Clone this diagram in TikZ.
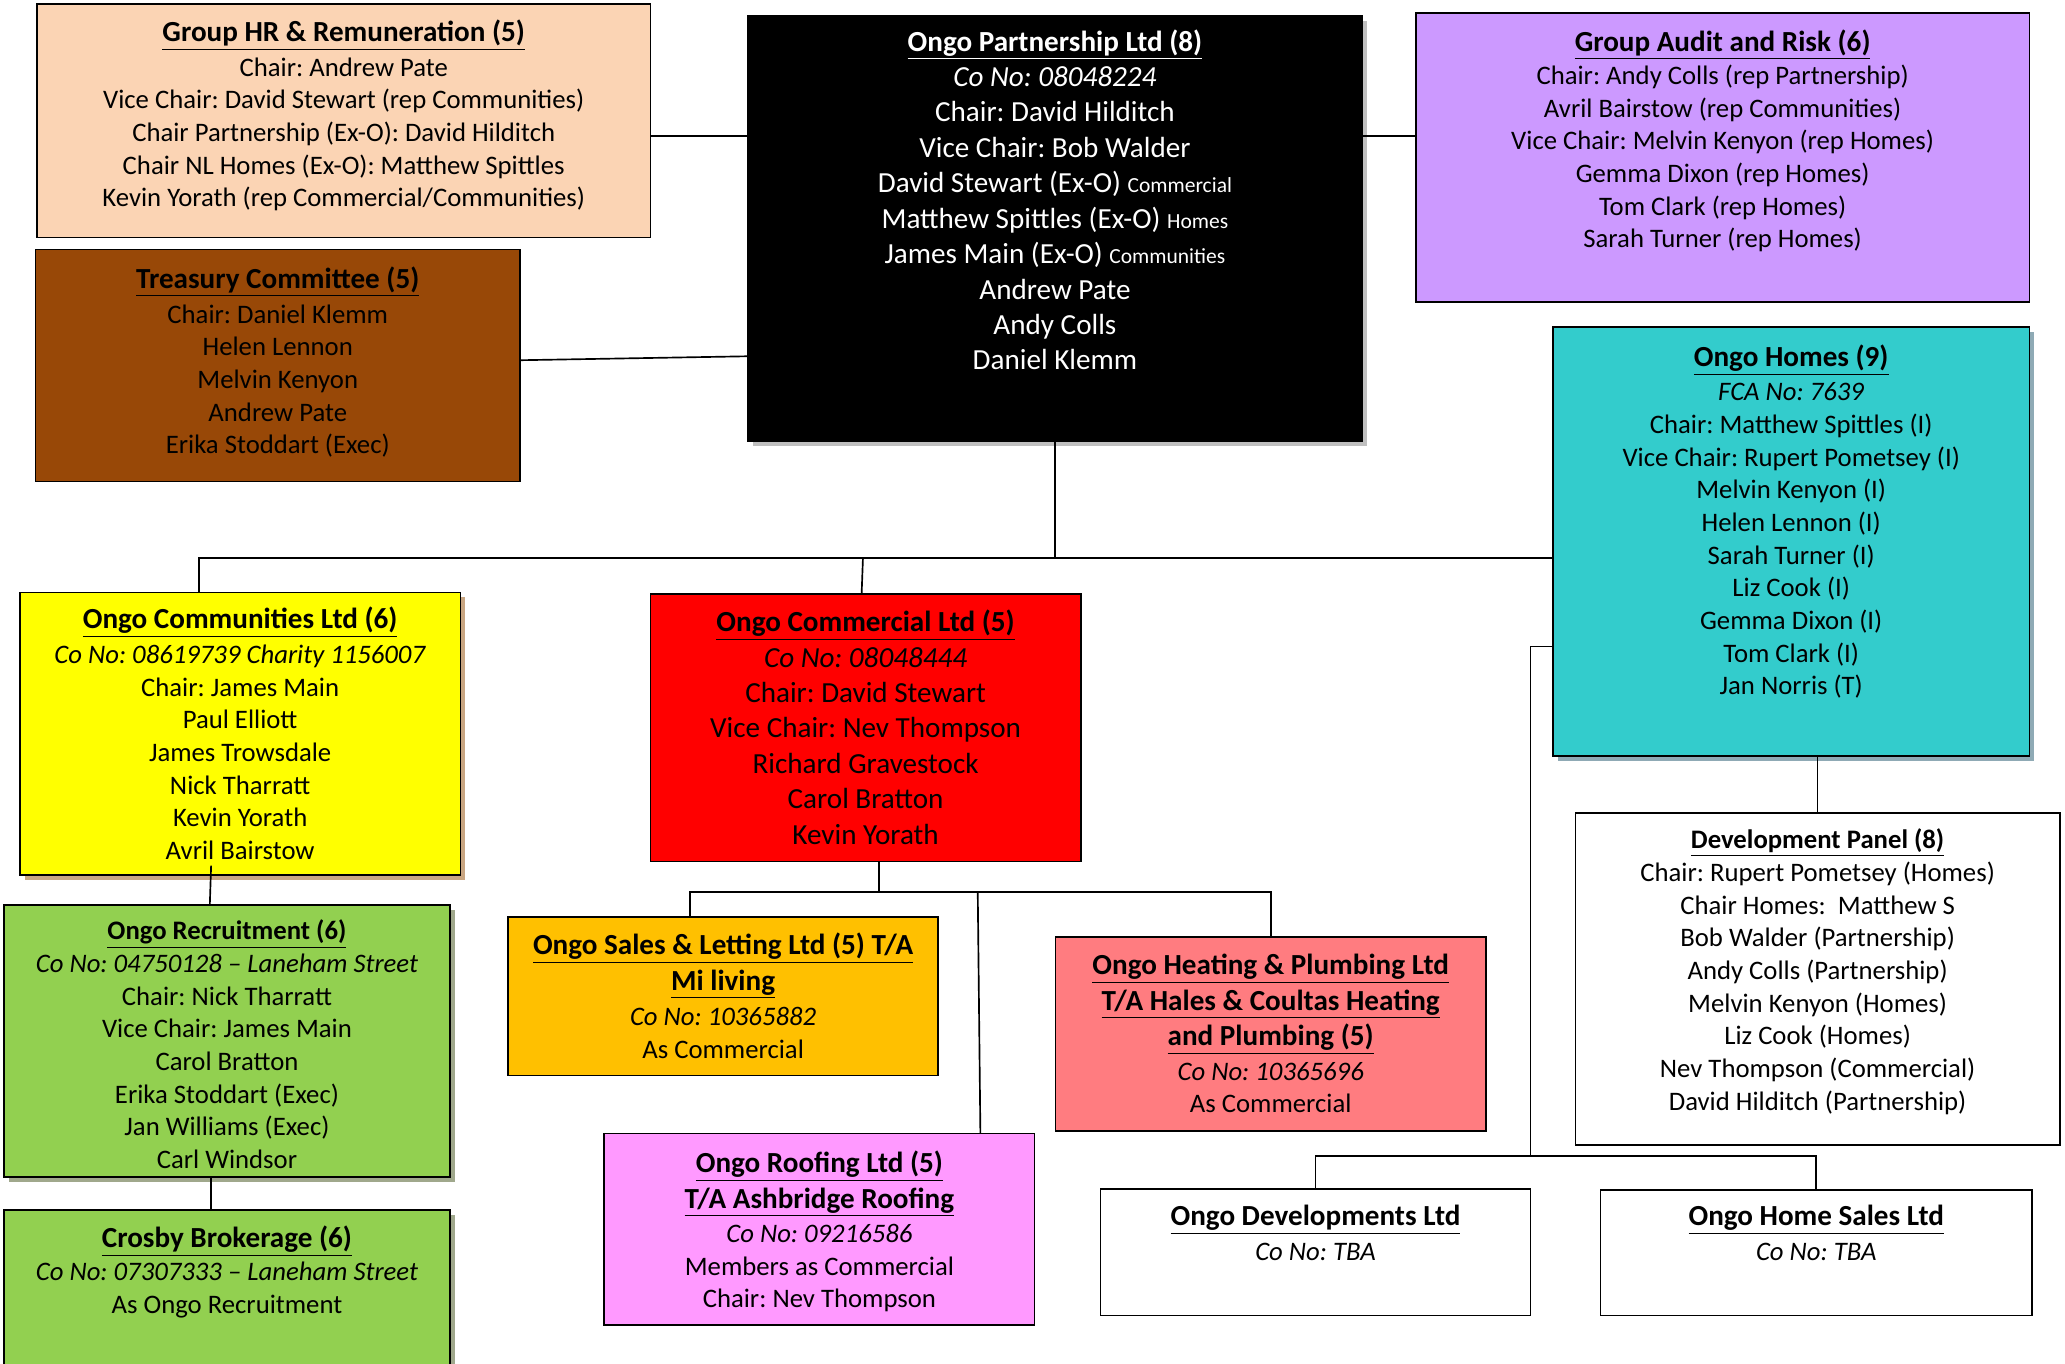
\documentclass[tikz,border=0pt]{standalone}
\usepackage{fontspec}
\setmainfont{Carlito}
\usetikzlibrary{fit,shadows}
\frenchspacing

\definecolor{hrpeach}{HTML}{FBD4B4}
\definecolor{treasbrown}{HTML}{984807}
\definecolor{auditlilac}{HTML}{CC99FF}
\definecolor{homesteal}{HTML}{33CCCC}
\definecolor{commyellow}{HTML}{FFFF00}
\definecolor{cmlred}{HTML}{FF0000}
\definecolor{recrgreen}{HTML}{92D050}
\definecolor{salesamber}{HTML}{FFC000}
\definecolor{roofpink}{HTML}{FF99FF}
\definecolor{heatsalmon}{HTML}{FF7C80}
\definecolor{partshade}{HTML}{BFBFBF}
\definecolor{homesshade}{HTML}{8FAAB5}
\definecolor{commshade}{HTML}{C9A682}
\definecolor{recrshade}{HTML}{A0A88C}

\tikzset{
  unitbox/.style={draw=black,line width=0.9pt,inner sep=0pt,outer sep=0pt},
  unittext/.style={align=center,inner sep=0pt,anchor=north,font=\fontsize{14.4}{17.6}\selectfont},
  bigtext/.style={unittext,font=\fontsize{15.7}{19.1}\selectfont},
  link/.style={draw=black,line width=0.9pt},
  boxshadow/.style={drop shadow={shadow xshift=2.6pt,shadow yshift=-2.6pt,fill=#1,opacity=1}}
}
\newcommand{\unittitle}[1]{\textbf{\underline{#1}}}
\newcommand{\bigtitle}[1]{{\fontsize{15.7}{19.1}\selectfont\textbf{\underline{#1}}}}
\newcommand{\tinyrole}[1]{{\fontsize{11.6}{12}\selectfont #1}}

\begin{document}
\begin{tikzpicture}[x=0.025cm,y=-0.025cm]
  \useasboundingbox (0,0) rectangle (1565,1033);

  \node [unitbox,fill=hrpeach,fit={(28,3) (493,180)}] (hr) {};
  \node [unittext] (hr-t) at (hr.north |- 0,15) {\bigtitle{Group HR \& Remuneration (5)}\\[1pt]
    Chair: Andrew Pate\\ Vice Chair: David Stewart (rep Communities)\\
    Chair Partnership (Ex-O): David Hilditch\\ Chair NL Homes (Ex-O): Matthew Spittles\\
    Kevin Yorath (rep Commercial/Communities)};

  \node [unitbox,fill=treasbrown,fit={(27,189) (394,365)}] (treas) {};
  \node [unittext] (treas-t) at (treas.north |- 0,202) {\bigtitle{Treasury Committee (5)}\\[1pt]
    Chair: Daniel Klemm\\ Helen Lennon\\ Melvin Kenyon\\ Andrew Pate\\ Erika Stoddart (Exec)};

  \node [unitbox,fill=black,boxshadow=partshade,fit={(567,12) (1032,334)}] (part) {};
  \node [bigtext,text=white] (part-t) at (part.north |- 0,22) {\unittitle{Ongo Partnership Ltd (8)}\\
    \textit{Co No: 08048224}\\ Chair: David Hilditch\\ Vice Chair: Bob Walder\\
    David Stewart (Ex-O) \tinyrole{Commercial}\\ Matthew Spittles (Ex-O) \tinyrole{Homes}\\
    James Main (Ex-O) \tinyrole{Communities}\\ Andrew Pate\\ Andy Colls\\ Daniel Klemm};

  \node [unitbox,fill=auditlilac,fit={(1073,10) (1538,229)}] (audit) {};
  \node [unittext] (audit-t) at (audit.north |- 0,22) {\bigtitle{Group Audit and Risk (6)}\\[0.5pt]
    Chair: Andy Colls (rep Partnership)\\ Avril Bairstow (rep Communities)\\
    Vice Chair: Melvin Kenyon (rep Homes)\\ Gemma Dixon (rep Homes)\\
    Tom Clark (rep Homes)\\ Sarah Turner (rep Homes)};

  \node [unitbox,fill=homesteal,boxshadow=homesshade,fit={(1177,248) (1538,573)}] (homes) {};
  \node [unittext] (homes-t) at (homes.north |- 0,261) {\bigtitle{Ongo Homes (9)}\\[1pt]
    \textit{FCA No: 7639}\\ Chair: Matthew Spittles (I)\\ Vice Chair: Rupert Pometsey (I)\\
    Melvin Kenyon (I)\\ Helen Lennon (I)\\ Sarah Turner (I)\\ Liz Cook (I)\\
    Gemma Dixon (I)\\ Tom Clark (I)\\ Jan Norris (T)};

  \node [unitbox,fill=commyellow,boxshadow=commshade,fit={(15,449) (349,663)}] (comm) {};
  \node [unittext] (comm-t) at (comm.north |- 0,460) {\bigtitle{Ongo Communities Ltd (6)}\\[1pt]
    \textit{Co No: 08619739 Charity 1156007}\\ Chair: James Main\\ Paul Elliott\\
    James Trowsdale\\ Nick Tharratt\\ Kevin Yorath\\ Avril Bairstow};

  \node [unitbox,fill=cmlred,fit={(493,450) (819,653)}] (cml) {};
  \node [bigtext] (cml-t) at (cml.north |- 0,462) {\unittitle{Ongo Commercial Ltd (5)}\\
    \textit{Co No: 08048444}\\ Chair: David Stewart\\ Vice Chair: Nev Thompson\\
    Richard Gravestock\\ Carol Bratton\\ Kevin Yorath};

  \node [unitbox,fill=recrgreen,boxshadow=recrshade,fit={(3,686) (341,892)}] (recr) {};
  \node [unittext] (recr-t) at (recr.north |- 0,697) {\unittitle{Ongo Recruitment (6)}\\
    \textit{Co No: 04750128 – Laneham Street}\\ Chair: Nick Tharratt\\ Vice Chair: James Main\\
    Carol Bratton\\ Erika Stoddart (Exec)\\ Jan Williams (Exec)\\ Carl Windsor};

  \node [unitbox,fill=recrgreen,boxshadow=recrshade,fit={(3,917) (341,1045)}] (crosby) {};
  \node [unittext] (crosby-t) at (crosby.north |- 0,929) {\bigtitle{Crosby Brokerage (6)}\\
    \textit{Co No: 07307333 – Laneham Street}\\ As Ongo Recruitment};

  \node [unitbox,fill=salesamber,fit={(385,695) (711,815)}] (sales) {};
  \node [unittext] (sales-t) at (sales.north |- 0,707) {\bigtitle{Ongo Sales \& Letting Ltd (5) T/A}\\[1.5pt]
    \bigtitle{Mi living}\\[1.5pt] \textit{Co No: 10365882}\\ As Commercial};

  \node [unitbox,fill=roofpink,fit={(458,859) (784,1004)}] (roof) {};
  \node [unittext] (roof-t) at (roof.north |- 0,872) {\bigtitle{Ongo Roofing Ltd (5)}\\[1.5pt]
    \bigtitle{T/A Ashbridge Roofing}\\[1pt] \textit{Co No: 09216586}\\
    Members as Commercial\\ Chair: Nev Thompson};

  \node [unitbox,fill=heatsalmon,fit={(800,710) (1126,857)}] (heat) {};
  \node [unittext] (heat-t) at (heat.north |- 0,723) {\bigtitle{Ongo Heating \& Plumbing Ltd}\\[1.5pt]
    \bigtitle{T/A Hales \& Coultas Heating}\\[1.5pt] \bigtitle{and Plumbing (5)}\\[1pt]
    \textit{Co No: 10365696}\\ As Commercial};

  \node [unitbox,fill=white,fit={(1194,616) (1561,868)}] (dev) {};
  \node [unittext] (dev-t) at (dev.north |- 0,628) {\unittitle{Development Panel (8)}\\
    Chair: Rupert Pometsey (Homes)\\ Chair Homes:\ \ Matthew S\\ Bob Walder (Partnership)\\
    Andy Colls (Partnership)\\ Melvin Kenyon (Homes)\\ Liz Cook (Homes)\\
    Nev Thompson (Commercial)\\ David Hilditch (Partnership)};

  \node [unitbox,fill=white,fit={(834,901) (1160,997)}] (devltd) {};
  \node [unittext] (devltd-t) at (devltd.north |- 0,913) {\bigtitle{Ongo Developments Ltd}\\[1pt]
    \textit{Co No: TBA}};

  \node [unitbox,fill=white,fit={(1213,902) (1540,997)}] (hsales) {};
  \node [unittext] (hsales-t) at (hsales.north |- 0,913) {\bigtitle{Ongo Home Sales Ltd}\\[1pt]
    \textit{Co No: TBA}};

  \draw [link] (hr.east |- 0,103) -- (part.west |- 0,103);
  \draw [link] (treas.east |- 0,273) -- (part.west |- 0,270);
  \draw [link] (part.east |- 0,103) -- (audit.west |- 0,103);
  \draw [link] (part.south) -- (part.south |- 0,423);
  \draw [link] (comm.north -| 151,0) -- (151,423) -- (homes.west |- 0,423);
  \draw [link] (cml.north -| 653,0) -- (654,423);
  \draw [link] ([yshift=5pt]comm.south -| 160,0) -- (recr.north -| 159,0);
  \draw [link] (recr.south -| 160,0) -- (crosby.north -| 160,0);
  \draw [link] (cml.south -| 666,0) -- (666,676);
  \draw [link] (sales.north -| 523,0) -- (523,676) -| (heat.north);
  \draw [link] (741,676) -- (roof.north -| 743,0);
  \draw [link] (homes.west |- 0,490) -- (1160,490) -- (1160,876);
  \draw [link] (devltd.north) -- (devltd.north |- 0,876) -- (hsales.north |- 0,876) -- (hsales.north);
  \draw [link] (dev.north) -- (dev.north |- homes.south);
\end{tikzpicture}
\end{document}
